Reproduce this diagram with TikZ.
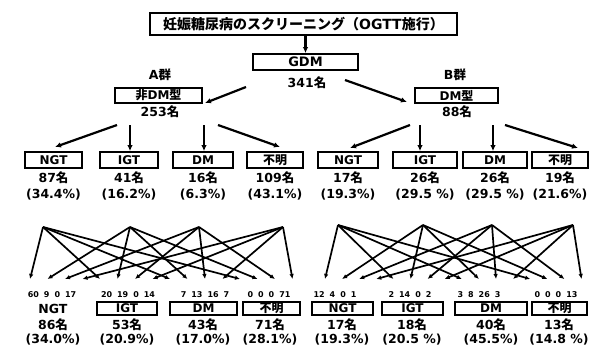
\documentclass[tikz,border=0pt]{standalone}
\usepackage{fontspec}
\setmainfont{DejaVu Sans}
\newfontfamily\jp{Noto Sans CJK JP}
\usetikzlibrary{arrows.meta}
\tikzset{
  box/.style={draw, line width=1.8pt, inner sep=0pt, font=\bfseries\fontsize{12}{12}\selectfont},
  lbl/.style={font=\bfseries\fontsize{12.5}{13}\selectfont, inner sep=0pt},
  num/.style={font=\bfseries\fontsize{8}{8}\selectfont, inner sep=0pt},
  arr/.style={line width=2.2pt, -{Latex[length=6pt,width=5.5pt]}},
  cross/.style={line width=1.7pt, -{Latex[length=5pt,width=4.5pt]}},
}
\newcommand{\mei}{{\jp 名}}
\newcommand{\nsp}{\hspace{5pt}}
\begin{document}
\begin{tikzpicture}[x=1pt,y=-1pt]
\useasboundingbox (0,0) rectangle (598,354);
% top
\node[box, minimum width=307pt, minimum height=22pt, font=\bfseries\fontsize{14}{14}\selectfont] (title) at (303.5,24) {{\jp 妊娠糖尿病のスクリーニング（}OGTT{\jp 施行）}};
\node[box, minimum width=105pt, minimum height=16pt, font=\bfseries\fontsize{13}{13}\selectfont] (gdm) at (305.5,62) {GDM};
\node[lbl] (n341) at (307,83) {341\mei};
\draw[arr] (title.south -| gdm.north) -- (gdm.north);
% groups
\node[lbl] (ga) at (160,75) {A{\jp 群}};
\node[box, minimum width=87pt, minimum height=15pt] (nondm) at (158.5,95.5) {{\jp 非}DM{\jp 型}};
\node[lbl] (n253) at (160,112) {253\mei};
\node[lbl] (gb) at (455,75) {B{\jp 群}};
\node[box, minimum width=83pt, minimum height=15pt] (dmt) at (456.5,95.5) {DM{\jp 型}};
\node[lbl] (n88) at (457,112) {88\mei};
\coordinate (gl0) at (246,87); \coordinate (gl1) at (205,103);
\coordinate (gr0) at (345,80); \coordinate (gr1) at (407,102);
\draw[arr] (gl0) -- (gl1);
\draw[arr] (gr0) -- (gr1);
% level 2 left
\node[box, minimum width=57pt, minimum height=16pt] (a1) at (53.5,160) {NGT};
\node[box, minimum width=58pt, minimum height=16pt] (a2) at (129,160) {IGT};
\node[box, minimum width=60pt, minimum height=16pt] (a3) at (203,160) {DM};
\node[box, minimum width=56pt, minimum height=16pt] (a4) at (275,160) {\jp 不明};
\node[lbl] (a1c) at (53.5,178) {87\mei};
\node[lbl] (a2c) at (129,178) {41\mei};
\node[lbl] (a3c) at (203,178) {16\mei};
\node[lbl] (a4c) at (275,178) {109\mei};
\node[lbl] (a1p) at (53.5,195) {(34.4\%)};
\node[lbl] (a2p) at (129,195) {(16.2\%)};
\node[lbl] (a3p) at (203,195) {(6.3\%)};
\node[lbl] (a4p) at (275,195) {(43.1\%)};
\coordinate (la1) at (117,125); \coordinate (la2) at (130,125);
\coordinate (la3) at (204,125); \coordinate (la4) at (218,125);
\draw[arr] (la1) -- (55,147);
\draw[arr] (la2) -- (a2.north -| la2);
\draw[arr] (la3) -- (a3.north -| la3);
\draw[arr] (la4) -- (280,147);
% level 2 right
\node[box, minimum width=60pt, minimum height=16pt] (b1) at (348,160) {NGT};
\node[box, minimum width=64pt, minimum height=16pt] (b2) at (425,160) {IGT};
\node[box, minimum width=64pt, minimum height=16pt] (b3) at (495,160) {DM};
\node[box, minimum width=56pt, minimum height=16pt] (b4) at (560,160) {\jp 不明};
\node[lbl] (b1c) at (348,178) {17\mei};
\node[lbl] (b2c) at (425,178) {26\mei};
\node[lbl] (b3c) at (495,178) {26\mei};
\node[lbl] (b4c) at (560,178) {19\mei};
\node[lbl] (b1p) at (348,195) {(19.3\%)};
\node[lbl] (b2p) at (425,195) {(29.5 \%)};
\node[lbl] (b3p) at (495,195) {(29.5 \%)};
\node[lbl] (b4p) at (560,195) {(21.6\%)};
\coordinate (lb1) at (410,125); \coordinate (lb2) at (420,125);
\coordinate (lb3) at (493,125); \coordinate (lb4) at (505,125);
\draw[arr] (lb1) -- (350,148);
\draw[arr] (lb2) -- (b2.north -| lb2);
\draw[arr] (lb3) -- (b3.north -| lb3);
\draw[arr] (lb4) -- (578,148);
% cross arrows
\foreach \i/\x in {1/43,2/130,3/199,4/283} \coordinate (LS\i) at (\x,227);
\foreach \i/\x in {1/338,2/423,3/492,4/573} \coordinate (RS\i) at (\x,225);
\foreach \j in {1,...,4} {
  \foreach \i in {1,...,4} {
    \pgfmathsetmacro\tx{30+17.5*(4*(\j-1)+\i-1)}
    \pgfmathsetmacro\ux{325+17.1*(4*(\j-1)+\i-1)}
    \coordinate (LT\j\i) at (\tx,279);
    \coordinate (RT\j\i) at (\ux,279);
    \draw[cross] (LS\i) -- (LT\j\i);
    \draw[cross] (RS\i) -- (RT\j\i);
  }
}
% bottom left
\node[num] (c1n) at (52,295) {60\nsp9\nsp0\nsp17};
\node[num] (c2n) at (128,295) {20\nsp19\nsp0\nsp14};
\node[num] (c3n) at (205,295) {7\nsp13\nsp16\nsp7};
\node[num] (c4n) at (269,295) {0\nsp0\nsp0\nsp71};
\node[lbl] (c1) at (53,308.5) {NGT};
\node[box, minimum width=60pt, minimum height=13pt] (c2) at (127,308.5) {IGT};
\node[box, minimum width=67pt, minimum height=13pt] (c3) at (203.5,308.5) {DM};
\node[box, minimum width=57pt, minimum height=13pt] (c4) at (271.5,308.5) {\jp 不明};
\node[lbl] (c1c) at (53,325) {86\mei};
\node[lbl] (c2c) at (127,325) {53\mei};
\node[lbl] (c3c) at (203,325) {43\mei};
\node[lbl] (c4c) at (270,325) {71\mei};
\node[lbl] (c1p) at (53,340) {(34.0\%)};
\node[lbl] (c2p) at (127,340) {(20.9\%)};
\node[lbl] (c3p) at (203,340) {(17.0\%)};
\node[lbl] (c4p) at (270,340) {(28.1\%)};
% bottom right
\node[num] (d1n) at (335,295) {12\nsp4\nsp0\nsp1};
\node[num] (d2n) at (410,295) {2\nsp14\nsp0\nsp2};
\node[num] (d3n) at (479,295) {3\nsp8\nsp26\nsp3};
\node[num] (d4n) at (556,295) {0\nsp0\nsp0\nsp13};
\node[box, minimum width=61pt, minimum height=13pt] (d1) at (342.5,308.5) {NGT};
\node[box, minimum width=61pt, minimum height=13pt] (d2) at (412.5,308.5) {IGT};
\node[box, minimum width=72pt, minimum height=13pt] (d3) at (491,308.5) {DM};
\node[box, minimum width=55pt, minimum height=13pt] (d4) at (559.5,308.5) {\jp 不明};
\node[lbl] (d1c) at (342,325) {17\mei};
\node[lbl] (d2c) at (412,325) {18\mei};
\node[lbl] (d3c) at (491,325) {40\mei};
\node[lbl] (d4c) at (559,325) {13\mei};
\node[lbl] (d1p) at (342,340) {(19.3\%)};
\node[lbl] (d2p) at (412,340) {(20.5 \%)};
\node[lbl] (d3p) at (491,340) {(45.5\%)};
\node[lbl] (d4p) at (559,340) {(14.8 \%)};
\end{tikzpicture}
\end{document}
